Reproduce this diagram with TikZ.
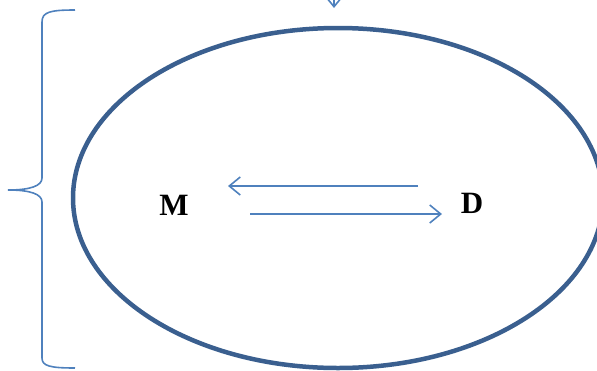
\documentclass[tikz,border=0pt]{standalone}
\usepackage{fontspec}
\setmainfont{Liberation Serif}
\usetikzlibrary{shapes.geometric,arrows.meta}
\definecolor{darkblue}{HTML}{3A5F8F}
\definecolor{lightblue}{HTML}{4F81BD}
\tikzset{
  thinblue/.style={draw=lightblue, line width=1.6pt},
  barb/.style={thinblue, -{Straight Barb[length=11pt,width=18pt,line width=1.6pt]}},
  lbl/.style={font=\bfseries\fontsize{31}{34}\selectfont, inner sep=0pt}
}
\begin{document}
\begin{tikzpicture}[x=1pt,y=-1pt]
\useasboundingbox (0,0) rectangle (597,370);
\clip (0,0) rectangle (597,370);
\node[ellipse, draw=darkblue, line width=4.5pt, minimum width=530pt, minimum height=340pt, inner sep=0pt] (ell) at (338,198) {};
\node[lbl] (M) at (174,205) {M};
\node[lbl] (D) at (472,203) {D};
\coordinate (a1s) at (418,186);
\coordinate (a1e) at (228,186);
\coordinate (a2s) at (250,214);
\coordinate (a2e) at (442,214);
\draw[barb] (a1s) -- (a1e);
\draw[barb] (a2s) -- (a2e);
\coordinate (tops) at (334,-10);
\coordinate (tope) at (334,8);
\draw[barb] (tops) -- (tope);
\coordinate (b1) at (75,10);
\coordinate (b2) at (8,190);
\coordinate (b3) at (75,368);
\draw[thinblue] (b1) .. controls (50,10) and (42,12) .. (42,22) -- (42,178)
  .. controls (42,186) and (30,190) .. (b2)
  .. controls (30,190) and (42,194) .. (42,202) -- (42,358)
  .. controls (42,366) and (50,368) .. (b3);
\end{tikzpicture}
\end{document}
